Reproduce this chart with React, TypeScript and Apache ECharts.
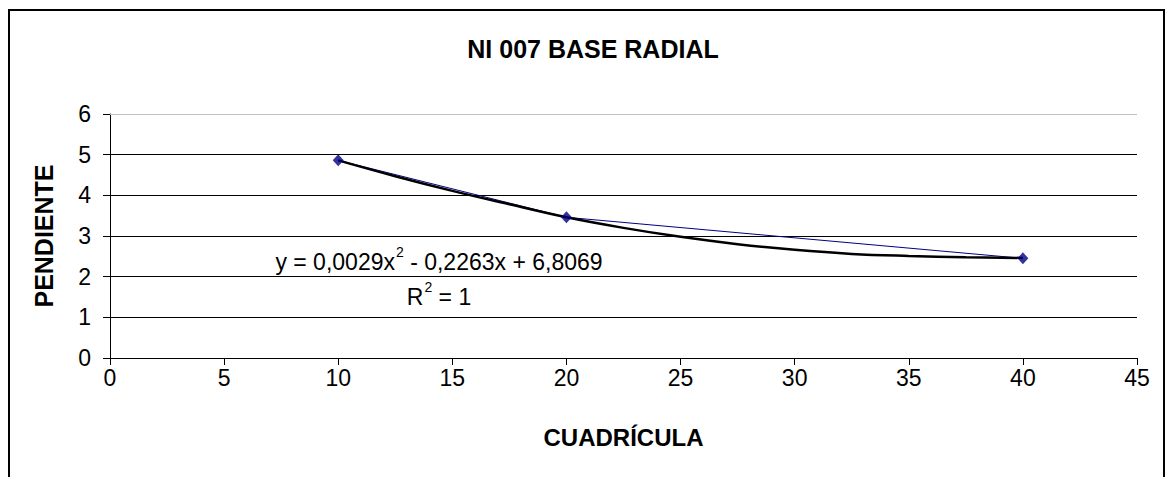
import React, { useEffect, useRef } from "react";
import * as echarts from "echarts";

const TITLE = "NI 007 BASE RADIAL";
const X_NAME = "CUADRÍCULA";
const Y_NAME = "PENDIENTE";

// observed data points (cuadrícula, pendiente)
const xValues = [10, 20, 40];
const yValues = [4.86, 3.46, 2.45];

// polynomial trend line
const trendX = [10, 12.5, 15, 17.5, 20, 22.5, 25, 27.5, 30, 32.5, 35, 37.5, 40];
const trendY = [4.86, 4.47, 4.11, 3.78, 3.46, 3.2, 2.98, 2.8, 2.66, 2.56, 2.51, 2.48, 2.46];

const xTicks = { min: 0, max: 45, interval: 5 };
const yTicks = { min: 0, max: 6, interval: 1 };

const FONT = 'Arial, "Liberation Sans", sans-serif';

export default function App() {
  const ref = useRef<HTMLDivElement>(null);

  useEffect(() => {
    if (!ref.current) return;
    const chart = echarts.init(ref.current, undefined, { renderer: "svg" });
    const points = xValues.map((x, i) => [x, yValues[i]]);
    const trend = trendX.map((x, i) => [x, trendY[i]]);

    const rich = {
      b: { fontFamily: FONT, fontSize: 23, fill: "#000", lineHeight: 28, verticalAlign: "bottom" },
      s: { fontFamily: FONT, fontSize: 14, fill: "#000", lineHeight: 28, verticalAlign: "top", padding: [0, 0, 0, 1] },
    };

    chart.setOption({
      animation: false,
      backgroundColor: "#ffffff",
      textStyle: { fontFamily: FONT },
      title: {
        text: TITLE,
        left: 588,
        textAlign: "center",
        top: 31,
        textStyle: { fontFamily: FONT, fontSize: 25, fontWeight: "bold", color: "#000" },
      },
      grid: { left: 110, right: 31, top: 114, bottom: 119, containLabel: false },
      xAxis: {
        type: "value",
        min: xTicks.min,
        max: xTicks.max,
        interval: xTicks.interval,
        name: X_NAME,
        nameLocation: "middle",
        nameGap: 67,
        nameTextStyle: { fontFamily: FONT, fontSize: 24, fontWeight: "bold", color: "#000" },
        axisLine: { show: true, onZero: false, lineStyle: { color: "#000", width: 1 } },
        axisTick: { show: true, inside: false, length: 7, lineStyle: { color: "#000" } },
        axisLabel: { fontFamily: FONT, fontSize: 23, color: "#000", margin: 8 },
        splitLine: { show: false },
      },
      yAxis: {
        type: "value",
        min: yTicks.min,
        max: yTicks.max,
        interval: yTicks.interval,
        name: Y_NAME,
        nameLocation: "middle",
        nameRotate: 90,
        nameGap: 54,
        nameTextStyle: { fontFamily: FONT, fontSize: 25, fontWeight: "bold", color: "#000" },
        axisLine: { show: true, onZero: false, lineStyle: { color: "#000", width: 1 } },
        axisTick: { show: true, inside: false, length: 7, lineStyle: { color: "#000" } },
        axisLabel: { fontFamily: FONT, fontSize: 23, color: "#000", margin: 19 },
        splitLine: { show: true, showMaxLine: false, lineStyle: { color: "#000", width: 1 } },
      },
      series: [
        {
          type: "line",
          data: points,
          symbol: "none",
          lineStyle: { color: "#000080", width: 1 },
          z: 2,
          markLine: {
            silent: true,
            symbol: "none",
            label: { show: false },
            lineStyle: { color: "#c0c0c0", width: 1, type: "solid" },
            data: [{ yAxis: yTicks.max }],
          },
        },
        {
          type: "line",
          data: trend,
          symbol: "none",
          smooth: 0.4,
          lineStyle: { color: "#000000", width: 2.5 },
          z: 3,
        },
        {
          type: "scatter",
          data: points,
          symbol: "diamond",
          symbolSize: [11, 12],
          itemStyle: { color: "#000080" },
          z: 4,
        },
      ],
      graphic: [
        {
          type: "rect",
          shape: { x: 9, y: 10, width: 1155, height: 500 },
          style: { fill: "none", stroke: "#000", lineWidth: 2 },
          silent: true,
          z: 100,
        },
        {
          type: "text",
          x: 439,
          y: 259,
          style: {
            text: "{b|y = 0,0029x}{s|2}{b| - 0,2263x + 6,8069}",
            align: "center",
            verticalAlign: "middle",
            rich,
          },
          z: 50,
        },
        {
          type: "text",
          x: 439,
          y: 294,
          style: {
            text: "{b|R}{s|2}{b| = 1}",
            align: "center",
            verticalAlign: "middle",
            rich,
          },
          z: 50,
        },
      ],
    });

    return () => chart.dispose();
  }, []);

  return (
    <div
      ref={ref}
      style={{ position: "absolute", left: 0, top: 0, width: 1168, height: 477, background: "#fff" }}
    />
  );
}
